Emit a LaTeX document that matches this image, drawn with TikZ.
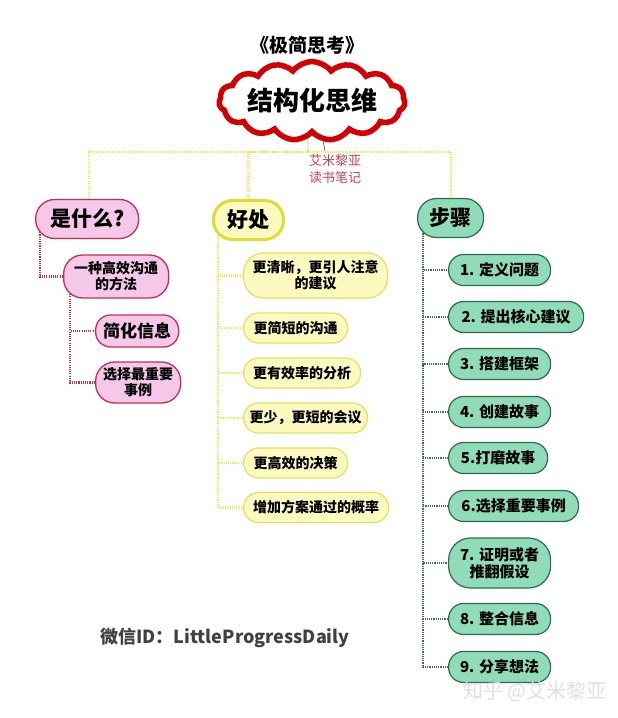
\documentclass[tikz,border=0pt]{standalone}
\usepackage{fontspec}
\setmainfont{Noto Sans CJK SC}
\usetikzlibrary{shapes.symbols,backgrounds}

\definecolor{pinkfill}{HTML}{F5C8EA}
\definecolor{pinkedge}{HTML}{C42E52}
\definecolor{yellowfill}{HTML}{FCFABF}
\definecolor{yellowedge}{HTML}{E2E060}
\definecolor{yellowhead}{HTML}{DEDC3C}
\definecolor{yellowline}{HTML}{ECEA58}
\definecolor{greenfill}{HTML}{90DCB8}
\definecolor{greenedge}{HTML}{2E6A4E}
\definecolor{greenline}{HTML}{3E6A5A}
\definecolor{cloudred}{HTML}{D20000}
\definecolor{notered}{HTML}{C8404C}
\definecolor{idgray}{HTML}{404040}

\tikzset{
  pill/.style={rectangle, rounded corners=15pt, inner sep=0pt, align=center, anchor=west,
    font=\bfseries\fontsize{14}{16}\selectfont},
  whatbox/.style={pill, fill=pinkfill, draw=pinkedge, line width=1.3pt},
  goodbox/.style={pill, fill=yellowfill, draw=yellowedge, line width=1.2pt},
  stepbox/.style={pill, fill=greenfill, draw=greenedge, line width=1.2pt,
    font=\bfseries\fontsize{15}{17}\selectfont},
  headbox/.style={font=\bfseries\fontsize{21}{21}\selectfont, minimum height=39pt, rounded corners=19pt},
  dots/.style={line width=2.2pt, dash pattern=on 1.1pt off 1.1pt},
}

\begin{document}
\begin{tikzpicture}[x=1pt,y=-1pt]
  \useasboundingbox (0,0) rectangle (618,718);
  % title and central idea
  \node[font=\bfseries\fontsize{19}{19}\selectfont] (title) at (307,45) {《极简思考》};
  \node[cloud, cloud puffs=15, cloud puff arc=105, aspect=3, inner sep=0pt, draw=cloudred, line width=5.5pt, fill=white,
    minimum width=178pt, minimum height=58pt, font=\bfseries\fontsize{26}{26}\selectfont] (root) at (312,101) {结构化思维};
  \node[text=notered, align=center, font=\fontsize{13}{17}\selectfont] (note) at (335,169) {艾米黎亚\\读书笔记};
  \coordinate (tip) at (322,135);

  % three branches
  \node[whatbox, headbox, minimum width=103pt] (what) at (35,219) {是什么?};
  \node[goodbox, headbox, minimum width=70pt, draw=yellowhead, line width=3pt] (good) at (212,220) {好处};
  \node[stepbox, headbox, minimum width=66pt] (steps) at (417,218) {步骤};

  % what is it
  \node[whatbox, minimum width=105pt, minimum height=43pt, rounded corners=19pt] (way) at (63,276.5) {一种高效沟通\\的方法};
  \node[whatbox, minimum width=83pt, minimum height=32pt, font=\bfseries\fontsize{17}{17}\selectfont] (simple) at (95,331) {简化信息};
  \node[whatbox, minimum width=85pt, minimum height=41pt, rounded corners=19pt] (case) at (95,382.5) {选择最重要\\事例};

  % benefits
  \node[goodbox, minimum width=144pt, minimum height=45pt, rounded corners=20pt] (g1) at (243,275.5) {更清晰，更引人注意\\的建议};
  \foreach \n/\y/\w/\t in {2/328/104/更简短的沟通, 3/373/117/更有效率的分析, 4/418/124/更少，更短的会议,
      5/463/104/更高效的决策, 6/507.5/145/增加方案通过的概率}
    \node[goodbox, minimum width=\w pt, minimum height=30pt] (g\n) at (243,\y) {\t};

  % steps
  \foreach \n/\y/\w/\t in {1/270/102/1. 定义问题, 2/317/135/2. 提出核心建议, 3/364/102/3. 搭建框架,
      4/412/102/4. 创建故事, 5/458/99/5.打磨故事, 6/506/130/6.选择重要事例, 8/619/102/8. 整合信息, 9/667/102/9. 分享想法}
    \node[stepbox, minimum width=\w pt, minimum height=31pt] (s\n) at (448,\y) {\t};
  \node[stepbox, minimum width=102pt, minimum height=50pt, rounded corners=22pt] (s7) at (448,563) {7. 证明或者\\推翻假设};

  \node[text=idgray, font=\bfseries\fontsize{18}{18}\selectfont] (wechat) at (225,638) {微信ID：LittleProgressDaily};
  \node[text=gray!25, font=\fontsize{20}{20}\selectfont] (mark) at (535,692) {知乎 @艾米黎亚};

  % connectors
  \begin{scope}[on background layer]
    \coordinate (bus) at (312,152);
    \draw[dots, yellowline] ([xshift=-4pt]root.center) -- ([xshift=-4pt]root.center |- bus);
    \draw[dots, yellowline] ([xshift=1.5pt]what.center) |- (bus) -| (steps);
    \draw[dots, yellowline] (good) |- (bus);
    \draw[dots, pinkedge] ([xshift=5pt]what.west) |- (way.west);
    \foreach \c in {simple,case}
      \draw[dots, pinkedge] ([xshift=7pt]way.west) |- (\c.west);
    \foreach \n in {1,...,6}
      \draw[dots, yellowline] ([xshift=6pt]good.west) |- (g\n.west);
    \foreach \n in {1,...,9}
      \draw[dots, greenline] ([xshift=6pt]steps.west) |- (s\n.west);
  \end{scope}
  \draw[gray!60!black, line width=0.6pt] ([xshift=-10pt]note.north) -- (tip);
\end{tikzpicture}
\end{document}
